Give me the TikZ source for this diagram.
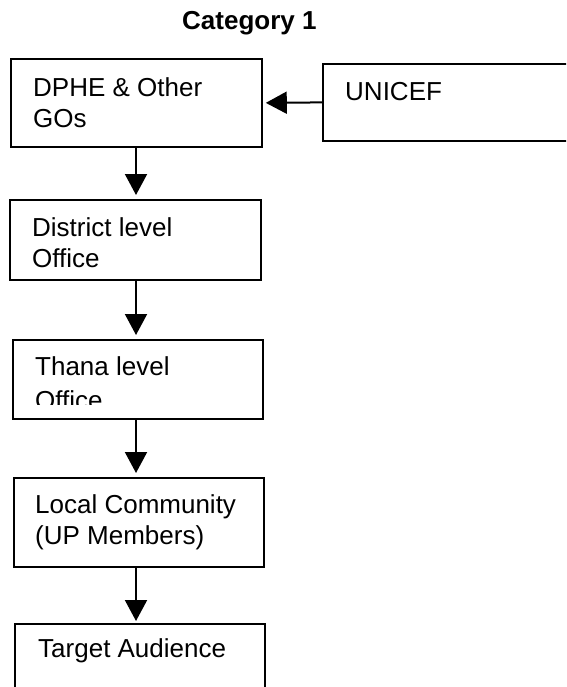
\documentclass[tikz,border=0pt]{standalone}
\usepackage{fontspec}
\setmainfont{Liberation Sans}
\usetikzlibrary{arrows.meta}
\begin{document}
\begin{tikzpicture}[x=1pt,y=-1pt,
  box/.style={draw, line width=1.8pt, rectangle, inner sep=0pt, anchor=north west},
  lbl/.style={anchor=base west, inner sep=0pt, align=left,
    font=\fontsize{26}{31}\selectfont},
  ttl/.style={anchor=base west, inner sep=0pt,
    font=\fontsize{26}{31}\selectfont\bfseries},
  arr/.style={line width=2pt, -{Triangle[width=22pt,length=21pt]}, shorten >=4pt}]
  \useasboundingbox (0,0) rectangle (566,687);
  \clip (0,0) rectangle (566,687);
  \fill[white] (0,0) rectangle (566,687);

  % heading
  \node[ttl] (title) at (182,30) {Category 1};

  % boxes
  \node[box, minimum width=251pt, minimum height=88pt] (dphe) at (10,58) {};
  \node[box, minimum width=320pt, minimum height=77pt] (unicef) at (322,63) {};
  \node[box, minimum width=251pt, minimum height=80pt] (district) at (9,199) {};
  \node[box, minimum width=250pt, minimum height=79pt] (thana) at (12,339) {};
  \node[box, minimum width=250pt, minimum height=89pt] (local) at (13,477) {};
  \node[box, minimum width=250pt, minimum height=100pt] (target) at (14,623) {};

  % box texts (the base anchor sits on the last line)
  \node[lbl] (tdphe) at (33,128) {DPHE \& Other\\GOs};
  \node[lbl] (tunicef) at (345,101) {UNICEF};
  \node[lbl] (tdistrict) at (32,267) {District level\\Office};
  \begin{scope}
    \clip (0,0) rectangle (566,404);
    \node[lbl] (tthana) at (35,409) {Thana level\\[3pt]Office};
  \end{scope}
  \node[lbl] (tlocal) at (35,544) {Local Community\\(UP Members)};
  \node[lbl] (ttarget) at (38,657) {Target Audience};

  % connectors
  \coordinate (ax) at (136,0);
  \draw[arr, shorten >=3pt] (unicef.west) -- (dphe.east);
  \draw[arr] (dphe.south -| ax) -- (district.north -| ax);
  \draw[arr] (district.south -| ax) -- (thana.north -| ax);
  \draw[arr] (thana.south -| ax) -- (local.north -| ax);
  \draw[arr, shorten >=2pt] (local.south -| ax) -- (target.north -| ax);
\end{tikzpicture}
\end{document}
